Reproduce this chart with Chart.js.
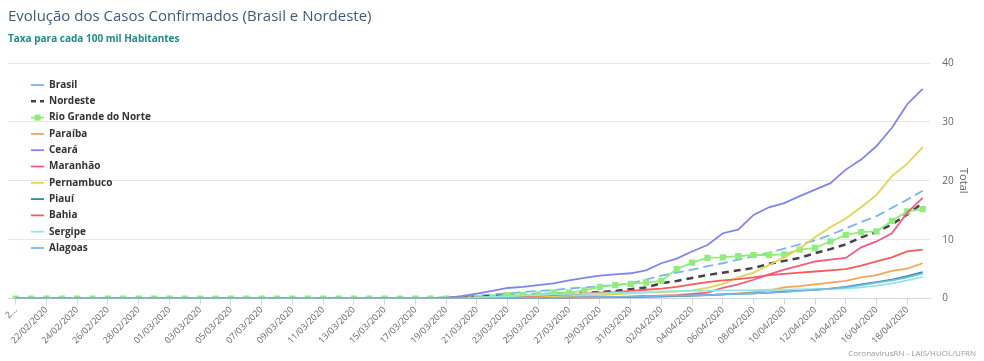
<!DOCTYPE html>
<html>
<head>
<meta charset="utf-8">
<script src="https://cdn.jsdelivr.net/npm/chart.js@4/dist/chart.umd.min.js"></script>
<style>
  html, body { margin: 0; padding: 0; background: #fff; }
  #wrap { width: 984px; height: 361px; }
</style>
</head>
<body>
<div id="wrap"><canvas id="casosChart" width="984" height="361"></canvas></div>
<script>
// datas (20/02 a 19/04)
const datas = [
  '20/02/2020', '21/02/2020', '22/02/2020', '23/02/2020', '24/02/2020', '25/02/2020', '26/02/2020', '27/02/2020', '28/02/2020', '29/02/2020',
  '01/03/2020', '02/03/2020', '03/03/2020', '04/03/2020', '05/03/2020', '06/03/2020', '07/03/2020', '08/03/2020', '09/03/2020', '10/03/2020',
  '11/03/2020', '12/03/2020', '13/03/2020', '14/03/2020', '15/03/2020', '16/03/2020', '17/03/2020', '18/03/2020', '19/03/2020', '20/03/2020',
  '21/03/2020', '22/03/2020', '23/03/2020', '24/03/2020', '25/03/2020', '26/03/2020', '27/03/2020', '28/03/2020', '29/03/2020', '30/03/2020',
  '31/03/2020', '01/04/2020', '02/04/2020', '03/04/2020', '04/04/2020', '05/04/2020', '06/04/2020', '07/04/2020', '08/04/2020', '09/04/2020',
  '10/04/2020', '11/04/2020', '12/04/2020', '13/04/2020', '14/04/2020', '15/04/2020', '16/04/2020', '17/04/2020', '18/04/2020', '19/04/2020'
];

// taxa por 100 mil habitantes
const brasil = [0,0,0,0,0,0,0,0,0,0, 0,0,0,0,0,0,0,0,0,0, 0,0,0,0,0,0,0.05,0.1,0.2,0.3,
  0.5,0.7,0.9,1.1,1.3,1.45,1.7,1.9,2.1,2.3, 2.6,3.2,3.9,4.4,4.9,5.5,6.0,6.6,7.2,7.8,
  8.5,9.2,9.9,10.8,11.9,13.0,14.0,15.4,16.8,18.3];
const nordeste = [0,0,0,0,0,0,0,0,0,0, 0,0,0,0,0,0,0,0,0,0, 0,0,0,0,0,0,0.02,0.05,0.1,0.2,
  0.3,0.4,0.5,0.6,0.7,0.8,0.9,1.0,1.1,1.3, 1.6,1.9,2.6,3.0,3.5,4.0,4.4,4.8,5.2,5.9,
  6.4,6.9,7.7,8.4,9.2,10.4,11.3,12.6,14.3,16.2];
const rioGrandeDoNorte = [0,0,0,0,0,0,0,0,0,0, 0,0,0,0,0,0,0,0,0,0, 0,0,0,0,0,0,0,0,0,0,
  0.1,0.2,0.6,0.6,0.7,1.0,1.0,1.4,2.0,2.3, 2.5,2.7,3.0,5.0,6.1,6.9,7.0,7.2,7.4,7.4,
  7.5,8.3,8.6,9.7,10.8,11.3,11.4,13.2,14.8,15.2];
const paraiba = [0,0,0,0,0,0,0,0,0,0, 0,0,0,0,0,0,0,0,0,0, 0,0,0,0,0,0,0,0,0,0,
  0,0,0,0,0,0,0.05,0.1,0.15,0.2, 0.2,0.3,0.35,0.4,0.5,0.6,0.7,0.9,1.1,1.4,
  1.9,2.1,2.4,2.7,3.0,3.6,4.0,4.7,5.1,6.0];
const ceara = [0,0,0,0,0,0,0,0,0,0, 0,0,0,0,0,0,0,0,0,0, 0,0,0,0,0,0,0,0,0.1,0.4,
  0.85,1.3,1.8,2.0,2.3,2.6,3.1,3.5,3.9,4.1, 4.3,4.8,6.0,6.8,8.0,9.1,11.1,11.7,14.2,15.5,
  16.2,17.4,18.5,19.6,21.9,23.6,25.9,29.0,33.0,35.6];
const maranhao = [0,0,0,0,0,0,0,0,0,0, 0,0,0,0,0,0,0,0,0,0, 0,0,0,0,0,0,0,0,0,0,
  0,0,0,0,0,0.1,0.1,0.15,0.2,0.25, 0.3,0.4,0.5,0.6,0.8,1.0,1.8,2.4,3.2,4.1,
  4.9,5.6,6.3,6.6,6.9,8.7,9.7,11.1,14.6,17.1];
const pernambuco = [0,0,0,0,0,0,0,0,0,0, 0,0,0,0,0,0,0,0,0,0, 0,0,0,0,0,0,0,0,0,0,
  0.1,0.1,0.2,0.2,0.3,0.3,0.4,0.5,0.6,0.7, 0.9,1.0,1.1,1.2,1.4,1.8,2.5,3.6,4.4,5.7,
  7.0,8.5,10.4,12.1,13.6,15.5,17.6,20.8,22.9,25.7];
const piaui = [0,0,0,0,0,0,0,0,0,0, 0,0,0,0,0,0,0,0,0,0, 0,0,0,0,0,0,0,0,0,0,
  0,0,0,0,0,0.1,0.15,0.2,0.2,0.25, 0.3,0.35,0.4,0.45,0.5,0.6,0.7,0.8,0.9,1.0,
  1.2,1.4,1.5,1.7,2.0,2.4,2.8,3.2,3.8,4.5];
const bahia = [0,0,0,0,0,0,0,0,0,0, 0,0,0,0,0,0,0,0,0,0, 0,0,0,0,0,0,0,0,0.1,0.15,
  0.2,0.3,0.35,0.4,0.5,0.6,0.7,0.85,1.0,1.1, 1.3,1.5,1.7,2.0,2.4,2.8,3.1,3.3,3.6,4.0,
  4.2,4.4,4.6,4.8,5.0,5.6,6.3,7.0,8.0,8.3];
const sergipe = [0,0,0,0,0,0,0,0,0,0, 0,0,0,0,0,0,0,0,0,0, 0,0,0,0,0,0,0,0,0,0,
  0.2,0.3,0.4,0.5,0.6,0.7,0.8,0.85,0.9,0.95, 1.0,1.1,1.2,1.25,1.3,1.35,1.4,1.4,1.45,1.5,
  1.5,1.55,1.6,1.65,1.7,1.9,2.2,2.6,3.1,3.7];
const alagoas = [0,0,0,0,0,0,0,0,0,0, 0,0,0,0,0,0,0,0,0,0, 0,0,0,0,0,0,0,0,0,0,
  0,0,0,0,0.05,0.1,0.15,0.2,0.25,0.3, 0.35,0.4,0.45,0.5,0.55,0.6,0.7,0.8,0.9,1.0,
  1.1,1.3,1.5,1.7,1.9,2.3,2.7,3.1,3.6,4.3];

const ticksY = [0, 10, 20, 30, 40];

const series = [
  { label: 'Brasil', data: brasil, color: '#7cb5ec', dash: [10, 5] },
  { label: 'Nordeste', data: nordeste, color: '#434348', dash: [7, 5], width: 2.5, legendDash: [5, 4] },
  { label: 'Rio Grande do Norte', data: rioGrandeDoNorte, color: '#90ed7d', marker: true },
  { label: 'Paraíba', data: paraiba, color: '#f7a35c' },
  { label: 'Ceará', data: ceara, color: '#8085e9' },
  { label: 'Maranhão', data: maranhao, color: '#f15c80' },
  { label: 'Pernambuco', data: pernambuco, color: '#e4d354' },
  { label: 'Piauí', data: piaui, color: '#2b908f' },
  { label: 'Bahia', data: bahia, color: '#f45b5b' },
  { label: 'Sergipe', data: sergipe, color: '#91e8e1' },
  { label: 'Alagoas', data: alagoas, color: '#7cb5ec' }
];

Chart.defaults.font.family = "'Open Sans', sans-serif";

// legenda dentro da area do grafico (estilo highcharts)
const legendaInterna = {
  id: 'legendaInterna',
  afterDraw(chart) {
    const ctx = chart.ctx;
    const area = chart.chartArea;
    ctx.save();
    series.forEach((s, i) => {
      const y = area.top + 22 + i * 16.3;
      const x0 = area.left + 23;
      ctx.strokeStyle = s.color;
      ctx.lineWidth = s.width || 1.8;
      ctx.setLineDash(s.legendDash || []);
      ctx.beginPath();
      ctx.moveTo(x0, y);
      ctx.lineTo(x0 + 13, y);
      ctx.stroke();
      ctx.setLineDash([]);
      if (s.marker) {
        ctx.fillStyle = s.color;
        ctx.fillRect(x0 + 3.5, y - 3, 6, 6);
      }
      ctx.fillStyle = '#333333';
      ctx.font = "bold 10px 'Open Sans', sans-serif";
      ctx.textBaseline = 'middle';
      ctx.textAlign = 'left';
      ctx.fillText(s.label, area.left + 41, y);
    });
    // credito
    ctx.fillStyle = '#999999';
    ctx.font = "8px 'Open Sans', sans-serif";
    ctx.textAlign = 'right';
    ctx.fillText('CoronavirusRN - LAIS/HUOL/UFRN', chart.width - 8, chart.height - 7);
    ctx.restore();
  }
};

const ctx = document.getElementById('casosChart').getContext('2d');
const casosChart = new Chart(ctx, {
  type: 'line',
  data: {
    labels: datas,
    datasets: series.map((s, i) => ({
      label: s.label,
      data: s.data,
      borderColor: s.color,
      backgroundColor: s.color,
      borderWidth: s.width || 1.8,
      borderDash: s.dash || [],
      pointRadius: s.marker ? 4.4 : 0,
      pointStyle: 'rect',
      pointBorderWidth: 0,
      tension: 0,
      fill: false,
      order: series.length - i
    }))
  },
  plugins: [legendaInterna],
  options: {
    responsive: false,
    animation: false,
    devicePixelRatio: 1,
    layout: { padding: { left: 8, right: 8, top: 8, bottom: 15 } },
    plugins: {
      legend: { display: false },
      tooltip: { enabled: false },
      title: {
        display: true,
        text: 'Evolução dos Casos Confirmados (Brasil e Nordeste)',
        align: 'start',
        color: '#3d5b7a',
        font: { size: 15, weight: 'normal' },
        padding: { top: 0, bottom: 7 }
      },
      subtitle: {
        display: true,
        text: 'Taxa para cada 100 mil Habitantes',
        align: 'start',
        color: '#218a8a',
        font: { size: 10, weight: 'bold' },
        padding: { top: 0, bottom: 18 }
      }
    },
    scales: {
      x: {
        offset: true,
        grid: {
          drawOnChartArea: false,
          offset: false,
          tickLength: 6,
          tickColor: c => (c.index % 2 ? 'rgba(0,0,0,0)' : '#ccd6eb')
        },
        border: { color: '#ccd6eb' },
        ticks: {
          autoSkip: false,
          minRotation: 45,
          maxRotation: 45,
          color: '#666666',
          font: { size: 9 },
          padding: 0,
          callback: function(value, index) {
            if (index % 2) return '';
            if (index === 0) return '2...';
            return datas[index];
          }
        }
      },
      y: {
        position: 'right',
        min: 0,
        max: 40,
        afterBuildTicks: axis => { axis.ticks = ticksY.map(v => ({ value: v })); },
        grid: { color: '#e6e6e6', drawTicks: false },
        border: { display: false },
        ticks: { color: '#666666', font: { size: 10 }, padding: 12 },
        title: { display: true, text: 'Total', color: '#666666', font: { size: 11 }, padding: { top: 6, bottom: -9 } }
      }
    }
  }
});
</script>
</body>
</html>
